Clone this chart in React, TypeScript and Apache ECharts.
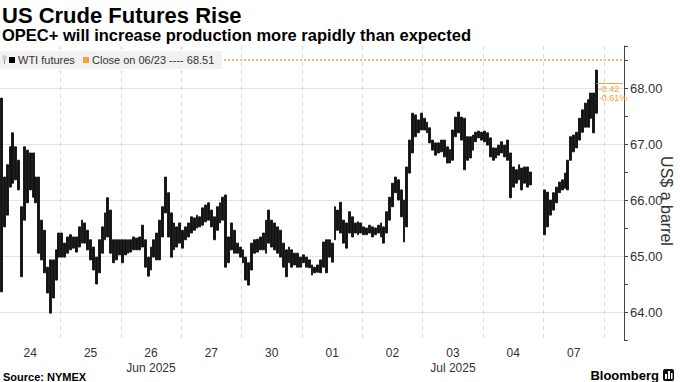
import React, { useEffect, useRef } from 'react';
import * as echarts from 'echarts';

// ---- data -----------------------------------------------------------
const dayLabels = ['24', '25', '26', '27', '30', '01', '02', '03', '04', '07'];
const monthLabels = ['', '', 'Jun 2025', '', '', '', '', 'Jul 2025', '', ''];
const slotsPerDay = 21;
const totalSlots = 217;

// intraday bar highs / lows (US$), one row per trading day, 21 bars per day
const highs: (number | null)[][] = [
  [67.82, 66.41, 66.63, 66.95, 67.2, 66.95, 66.71, 65.88, 66.95, 66.89, 66.84, 66.84, 66.41, 66.41, 65.64, 65.46, 64.8, 64.93, 64.93, 65.11, 65.41],
  [65.41, 65.23, 65.34, 65.38, 65.34, 65.34, 65.52, 65.64, 65.59, 65.46, 65.29, 65.16, 64.98, 65.29, 65.52, 65.77, 66.04, 65.82, 65.29, 65.29, 65.29],
  [65.29, 65.29, 65.29, 65.29, 65.34, 65.32, 65.34, 65.55, 65.29, 64.98, 65.16, 65.29, 65.41, 65.64, 65.88, 66.41, 66.13, 65.77, 65.59, 65.52, 65.59],
  [65.46, 65.52, 65.59, 65.7, 65.68, 65.73, 65.7, 65.86, 65.91, 65.95, 65.82, 65.7, 65.88, 65.95, 66.05, 66.09, 65.34, 65.59, 65.46, 65.23, 65.16],
  [65.11, 64.98, 64.88, 65.23, 65.29, 65.3, 65.34, 65.41, 65.64, 65.82, 65.64, 65.59, 65.52, 65.46, 65.23, 65.11, 65.16, 65.11, 65.05, 65.05, 64.98],
  [65.02, 64.98, 64.93, 64.84, 64.8, 64.84, 64.93, 65.25, 65.29, 65.29, 65.23, 65.88, 65.82, 65.96, 65.64, 65.59, 65.79, 65.7, 65.59, 65.61, 65.59],
  [65.52, 65.5, 65.55, 65.52, 65.5, 65.55, 65.59, 65.52, 65.79, 66.05, 66.3, 66.41, 66.36, 66.18, 66.0, 66.59, 67.07, 67.55, 67.52, 67.43, 67.55],
  [67.46, 67.39, 67.29, 67.07, 67.02, 67.02, 67.07, 67.07, 66.95, 66.9, 67.25, 67.48, 67.57, 67.48, 67.46, 67.13, 67.13, 67.16, 67.21, 67.23, 67.21],
  [67.23, 67.2, 67.11, 66.93, 66.93, 66.98, 67.04, 66.98, 67.07, 66.84, 66.59, 66.54, 66.63, 66.57, 66.59, 66.59, 66.5, null, null, null, null],
  [66.18, 66.14, 66.0, 66.13, 66.23, 66.32, 66.36, 66.48, 66.71, 67.13, 67.16, 67.21, 67.46, 67.61, 67.73, 67.79, 67.91, 67.91, 68.32, null, null],
];
const lows: (number | null)[][] = [
  [64.36, 65.52, 65.73, 66.23, 66.3, 66.36, 66.18, 64.63, 65.64, 65.95, 66.18, 66.05, 65.95, 65.05, 64.93, 64.7, 64.34, 63.98, 64.25, 64.57, 64.98],
  [64.98, 64.98, 65.05, 65.11, 65.14, 65.07, 65.16, 65.23, 65.23, 65.11, 64.93, 64.75, 64.5, 64.7, 65.05, 65.29, 65.34, 65.05, 64.88, 64.93, 65.02],
  [64.88, 65.02, 65.05, 65.07, 65.11, 65.11, 65.11, 65.16, 64.8, 64.64, 64.75, 64.98, 64.93, 64.93, 65.34, 65.77, 65.34, 64.98, 65.11, 65.16, 65.23],
  [65.14, 65.29, 65.34, 65.41, 65.46, 65.5, 65.52, 65.55, 65.61, 65.64, 65.52, 65.29, 65.46, 65.59, 65.64, 64.8, 64.88, 65.11, 65.05, 65.05, 64.98],
  [64.88, 64.57, 64.48, 64.75, 65.05, 65.07, 65.11, 65.11, 65.05, 65.23, 65.16, 65.11, 65.05, 64.98, 64.8, 64.63, 64.88, 64.8, 64.84, 64.8, 64.8],
  [64.88, 64.8, 64.79, 64.66, 64.7, 64.71, 64.7, 64.8, 64.7, 64.98, 64.89, 65.29, 65.46, 65.41, 65.23, 65.14, 65.41, 65.34, 65.41, 65.38, 65.41],
  [65.38, 65.38, 65.41, 65.34, 65.38, 65.41, 65.34, 65.23, 65.41, 65.64, 65.88, 66.13, 66.0, 65.7, 65.25, 65.52, 66.48, 66.84, 67.13, 67.2, 67.25],
  [67.25, 67.2, 67.02, 66.89, 66.8, 66.84, 66.86, 66.77, 66.66, 66.66, 66.71, 67.13, 67.2, 67.07, 66.54, 66.71, 66.75, 66.89, 67.04, 67.11, 67.07],
  [67.04, 66.98, 66.77, 66.71, 66.75, 66.8, 66.84, 66.77, 66.71, 66.04, 66.23, 66.3, 66.36, 66.18, 66.3, 66.23, 66.27, null, null, null, null],
  [65.38, 65.52, 65.73, 65.82, 65.95, 66.13, 66.18, 66.21, 66.18, 66.71, 66.86, 66.93, 67.07, 67.21, 67.3, 67.3, 67.46, 67.2, 67.55, null, null],
];

const closeDate = '06/23';
const prevClose = 68.51;
const lastPrice = 68.09;
const changeText = '-0.42';
const changePctText = '-0.61%';
const yMin = 63.5;
const yMax = 68.75;
const yStep = 0.5;

const ORANGE = '#f4a236';
const FONT = "'Liberation Sans', Arial, sans-serif";

export default function App() {
  const ref = useRef<HTMLDivElement>(null);

  useEffect(() => {
    if (!ref.current) return;
    const chart = echarts.init(ref.current, null, { renderer: 'svg' });

    const categories = Array.from({ length: totalSlots }, (_, i) => String(i));
    const candleData = categories.map((_, i) => {
      const d = Math.floor(i / slotsPerDay);
      const s = i % slotsPerDay;
      const h = highs[d] ? highs[d][s] : null;
      const l = lows[d] ? lows[d][s] : null;
      if (h == null || l == null) return ['-', '-', '-', '-'];
      return [l, h, l, h];
    });
    let lastIdx = 0;
    candleData.forEach((v, i) => {
      if (v[0] !== '-') lastIdx = i;
    });

    // gridline colours: only integer levels get a line
    const splitColors: string[] = [];
    for (let v = yMin; v <= yMax + 1e-9; v += yStep) {
      splitColors.push(Math.abs(v - Math.round(v)) < 1e-6 ? '#e3e3e3' : 'rgba(0,0,0,0)');
    }
    splitColors.push('rgba(0,0,0,0)');

    chart.setOption({
      animation: false,
      textStyle: { fontFamily: FONT },
      grid: { left: 0, right: 56, top: 46, bottom: 42, containLabel: false },
      xAxis: {
        type: 'category',
        data: categories,
        boundaryGap: true,
        axisLine: { show: false },
        axisTick: { show: false },
        splitLine: {
          show: true,
          interval: (i: number) => i % slotsPerDay === 0 && i > 0,
          lineStyle: { color: '#d6d6d6', type: [4, 4], width: 1 },
        },
        axisLabel: {
          interval: (i: number) => i % slotsPerDay === 10 && i < slotsPerDay * dayLabels.length,
          formatter: (value: string) => {
            const d = Math.floor(Number(value) / slotsPerDay);
            return monthLabels[d] ? dayLabels[d] + '\n' + monthLabels[d] : dayLabels[d];
          },
          color: '#333',
          fontSize: 12,
          lineHeight: 15,
          margin: 5,
          fontFamily: FONT,
        },
      },
      yAxis: {
        type: 'value',
        position: 'right',
        min: yMin,
        max: yMax,
        interval: yStep,
        axisLine: { show: true, lineStyle: { color: '#444', width: 1 } },
        axisTick: { show: true, length: 4, lineStyle: { color: '#444' } },
        axisLabel: {
          color: '#333',
          fontSize: 13,
          margin: 6,
          fontFamily: FONT,
          formatter: (v: number) => (Math.abs(v - Math.round(v)) < 1e-6 ? v.toFixed(2) : ''),
        },
        splitLine: { show: true, showMinLine: true, showMaxLine: true, lineStyle: { color: splitColors, width: 1 } },
      },
      series: [
        {
          type: 'candlestick',
          data: candleData,
          barWidth: 2.4,
          z: 3,
          itemStyle: {
            color: '#111',
            color0: '#111',
            borderColor: '#111',
            borderColor0: '#111',
            borderWidth: 0.9,
          },
          markLine: {
            silent: true,
            symbol: 'none',
            animation: false,
            data: [
              {
                yAxis: prevClose,
                lineStyle: { color: ORANGE, type: [2, 2], width: 1.5, opacity: 1 },
                label: { show: false },
              },
              [
                {
                  coord: [categories[lastIdx], lastPrice],
                  lineStyle: { color: ORANGE, type: 'solid', width: 1 },
                  label: {
                    show: true,
                    position: 'insideStartBottom',
                    formatter: changeText + '\n' + changePctText,
                    color: ORANGE,
                    fontSize: 9,
                    lineHeight: 9,
                    distance: 2,
                    fontFamily: FONT,
                  },
                },
                { coord: [categories[totalSlots - 1], lastPrice] },
              ],
            ],
          },
        },
      ],
      graphic: [
        {
          type: 'text', x: 2, y: 15, z: 100,
          style: { text: 'US Crude Futures Rise', fill: '#000', fontSize: 22, fontWeight: 'bold', fontFamily: FONT, textAlign: 'left', textVerticalAlign: 'middle' },
        },
        {
          type: 'text', x: 2, y: 35, z: 100,
          style: { text: 'OPEC+ will increase production more rapidly than expected', fill: '#000', fontSize: 16.5, fontWeight: 'bold', fontFamily: FONT, textAlign: 'left', textVerticalAlign: 'middle' },
        },
        { type: 'rect', z: 100, shape: { x: 0, y: 51, width: 222, height: 18 }, style: { fill: 'rgba(240,240,240,0.92)' } },
        { type: 'circle', z: 101, shape: { cx: 4.5, cy: 57.5, r: 1.6 }, style: { fill: 'none', stroke: '#999', lineWidth: 1 } },
        { type: 'line', z: 101, shape: { x1: 4.5, y1: 59, x2: 4.5, y2: 64 }, style: { stroke: '#999', lineWidth: 1 } },
        { type: 'rect', z: 101, shape: { x: 9, y: 57, width: 6, height: 6 }, style: { fill: '#000' } },
        {
          type: 'text', x: 18, y: 60, z: 101,
          style: { text: 'WTI futures', fill: '#333', fontSize: 11, fontFamily: FONT, textAlign: 'left', textVerticalAlign: 'middle' },
        },
        { type: 'rect', z: 101, shape: { x: 83, y: 57, width: 6, height: 6 }, style: { fill: ORANGE } },
        {
          type: 'text', x: 92, y: 60, z: 101,
          style: { text: 'Close on ' + closeDate + ' ---- ' + prevClose.toFixed(2), fill: '#333', fontSize: 11, fontFamily: FONT, textAlign: 'left', textVerticalAlign: 'middle' },
        },
        {
          type: 'text', x: 666, y: 201, z: 100, rotation: -Math.PI / 2,
          style: { text: 'US$ a barrel', fill: '#333', fontSize: 16, fontFamily: FONT, textAlign: 'center', textVerticalAlign: 'middle' },
        },
        {
          type: 'text', x: 3, y: 377, z: 100,
          style: { text: 'Source: NYMEX', fill: '#000', fontSize: 11, fontWeight: 'bold', fontFamily: FONT, textAlign: 'left', textVerticalAlign: 'middle' },
        },
        {
          type: 'text', x: 659, y: 375, z: 100,
          style: { text: 'Bloomberg', fill: '#000', fontSize: 13, fontWeight: 'bold', fontFamily: FONT, textAlign: 'right', textVerticalAlign: 'middle' },
        },
        { type: 'rect', z: 100, shape: { x: 663, y: 369, width: 11, height: 12, r: 2 }, style: { fill: '#111' } },
        { type: 'rect', z: 101, shape: { x: 665, y: 374, width: 2, height: 5 }, style: { fill: '#fff' } },
        { type: 'rect', z: 101, shape: { x: 668, y: 371, width: 2, height: 8 }, style: { fill: '#fff' } },
        { type: 'rect', z: 101, shape: { x: 671, y: 373, width: 1.5, height: 6 }, style: { fill: '#fff' } },
      ],
    });

    return () => {
      chart.dispose();
    };
  }, []);

  return (
    <div
      ref={ref}
      style={{ position: 'fixed', left: 0, top: 0, width: 680, height: 382, background: '#fff' }}
    />
  );
}
